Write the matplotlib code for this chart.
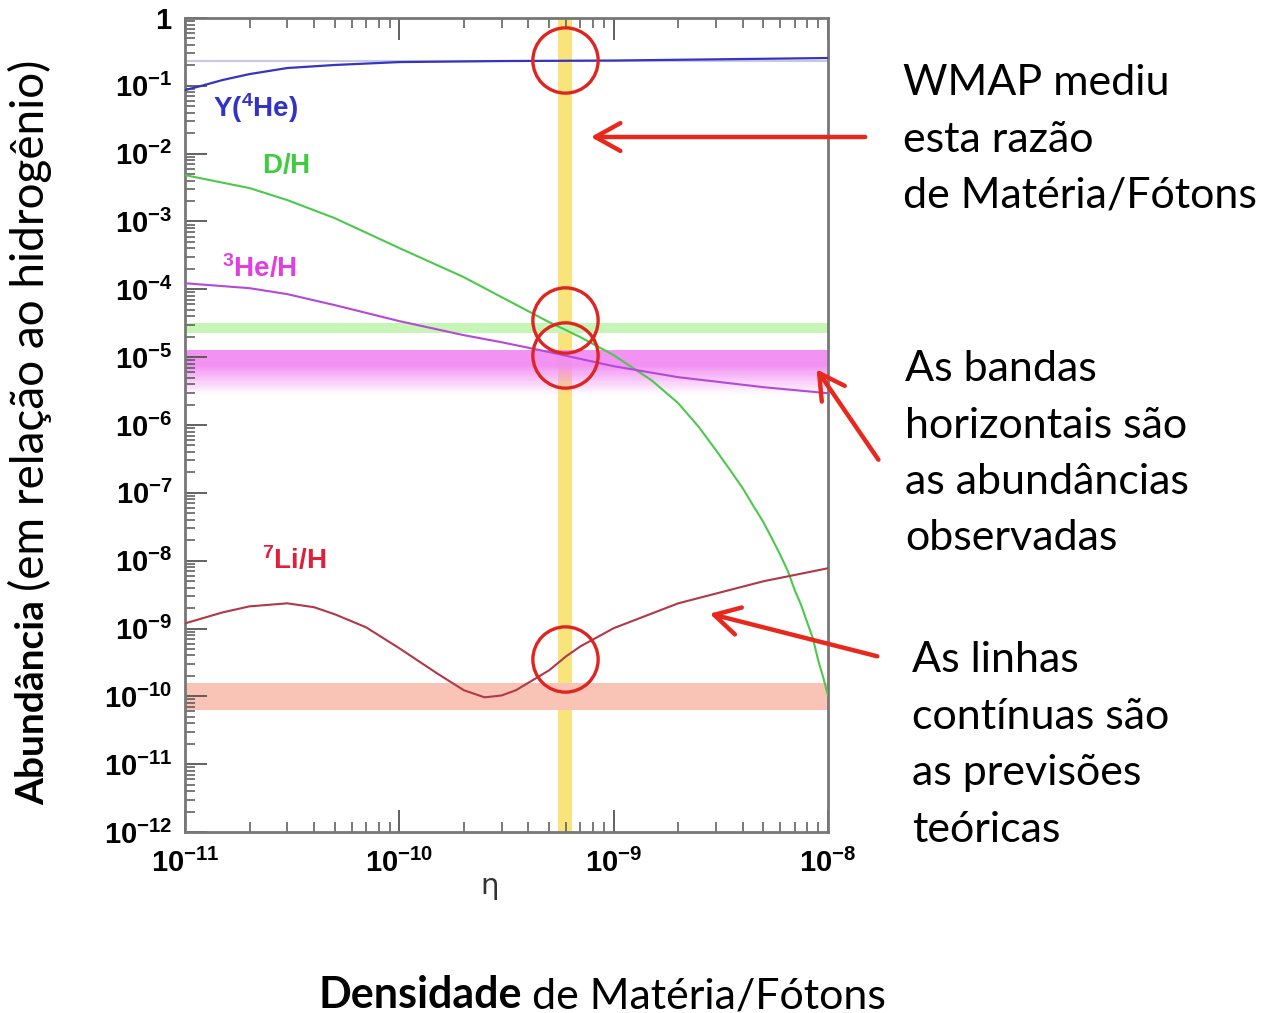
import matplotlib
matplotlib.use('Agg')
import matplotlib.pyplot as plt
import numpy as np
from matplotlib.ticker import LogLocator, NullFormatter

plt.rcParams['mathtext.fontset'] = 'custom'
plt.rcParams['mathtext.rm'] = 'Liberation Sans'
plt.rcParams['mathtext.bf'] = 'Liberation Sans:bold'

# curves (eta, abundance)
eta_he4 = [1e-11, 1.18e-11, 1.5e-11, 2e-11, 3e-11, 5e-11, 1e-10, 3e-10, 1e-9, 1e-8]
y_he4 = [0.0867, 0.099, 0.122, 0.149, 0.183, 0.203, 0.224, 0.232, 0.236, 0.257]

eta_d = [1e-11, 2e-11, 3e-11, 5e-11, 1e-10, 2e-10, 3e-10, 5e-10, 6e-10, 7e-10,
         1e-9, 1.5e-9, 2e-9, 2.5e-9, 3e-9, 3.5e-9, 4e-9, 4.5e-9, 5e-9, 5.5e-9, 6e-9, 6.5e-9,
         7e-9, 7.5e-9, 8e-9, 8.5e-9, 9e-9, 9.5e-9, 1e-8]
y_d = [4.83e-3, 3.11e-3, 2.07e-3, 1.12e-3, 4.06e-4, 1.51e-4, 7.67e-5, 3.28e-5, 2.50e-5, 1.97e-5,
       1.07e-5, 4.58e-6, 2.10e-6, 9.3e-7, 4.25e-7, 2.15e-7, 1.17e-7, 6.3e-8, 3.68e-8, 2.07e-8, 1.2e-8, 6.98e-9,
       3.66e-9, 2.2e-9, 1.23e-9, 7.16e-10, 3.4e-10, 1.9e-10, 1.03e-10]

eta_he3 = [1e-11, 2e-11, 3e-11, 5e-11, 1e-10, 2e-10, 3e-10, 5e-10, 1e-9, 2e-9, 5e-9, 1e-8]
y_he3 = [1.23e-4, 1.04e-4, 8.5e-5, 5.85e-5, 3.40e-5, 2.11e-5, 1.66e-5, 1.19e-5, 7.36e-6, 5.07e-6, 3.61e-6, 2.94e-6]

eta_li = [1e-11, 1.5e-11, 2e-11, 3e-11, 4e-11, 5e-11, 7e-11, 1e-10, 1.5e-10, 2e-10,
          2.5e-10, 3e-10, 3.5e-10, 5e-10, 6e-10, 7e-10, 1e-9, 2e-9, 5e-9, 1e-8]
y_li = [1.19e-9, 1.73e-9, 2.12e-9, 2.35e-9, 2.06e-9, 1.62e-9, 1.04e-9, 5.11e-10, 2.18e-10, 1.23e-10,
        9.66e-11, 1.03e-10, 1.23e-10, 2.42e-10, 3.89e-10, 5.46e-10, 1.01e-9, 2.35e-9, 4.97e-9, 7.73e-9]

# observed abundances
he4_obs = 0.234
d_band = [2.3e-5, 3.2e-5]
he3_band = [2.8e-6, 1.27e-5]
li_band = [6.2e-11, 1.56e-10]
wmap_band = [5.5e-10, 6.4e-10]
wmap_eta = 5.93e-10
circle_y = [0.24, 3.5e-5, 1.07e-5, 3.6e-10]

xtick_vals = [1e-11, 1e-10, 1e-9, 1e-8]
xtick_labels = [r'$\mathbf{10^{-11}}$', r'$\mathbf{10^{-10}}$', r'$\mathbf{10^{-9}}$', r'$\mathbf{10^{-8}}$']
ytick_vals = [1, 1e-1, 1e-2, 1e-3, 1e-4, 1e-5, 1e-6, 1e-7, 1e-8, 1e-9, 1e-10, 1e-11, 1e-12]
ytick_labels = [r'$\mathbf{1}$', r'$\mathbf{10^{-1}}$', r'$\mathbf{10^{-2}}$', r'$\mathbf{10^{-3}}$',
                r'$\mathbf{10^{-4}}$', r'$\mathbf{10^{-5}}$', r'$\mathbf{10^{-6}}$', r'$\mathbf{10^{-7}}$',
                r'$\mathbf{10^{-8}}$', r'$\mathbf{10^{-9}}$', r'$\mathbf{10^{-10}}$', r'$\mathbf{10^{-11}}$',
                r'$\mathbf{10^{-12}}$']

W, H = 1266, 1013
def fx(x):
    return x / W
def fy(y):
    return 1 - y / H

fig = plt.figure(figsize=(W / 100, H / 100), dpi=100)
ax = fig.add_axes([fx(185), fy(832), 643 / W, 814 / H])
ax.set_xscale('log')
ax.set_yscale('log')
ax.set_xlim(1e-11, 1e-8)
ax.set_ylim(1e-12, 1)

# bands
ax.axvspan(wmap_band[0], wmap_band[1], color='#f9e47c', lw=0, zorder=1)
ax.axhspan(d_band[0], d_band[1], color='#c6f5b6', lw=0, zorder=1)
ax.axhspan(li_band[0], li_band[1], color='#f9c4b6', lw=0, zorder=1)
ax.axhline(he4_obs, color='#c8c8e6', lw=1.5, zorder=1)
n = 40
edges = np.logspace(np.log10(he3_band[0]), np.log10(he3_band[1]), n + 1)
for i in range(n):
    t = (i + 0.5) / n
    ax.axhspan(edges[i], edges[i + 1], color='#f28cf2', alpha=min(1.0, 1.5 * t) * 0.95, lw=0, zorder=1)

# theory curves
ax.plot(eta_he4, y_he4, color='#3535c0', lw=1.6, zorder=3)
ax.plot(eta_d, y_d, color='#4cc84c', lw=1.5, zorder=3)
ax.plot(eta_he3, y_he3, color='#b448d8', lw=1.5, zorder=3)
ax.plot(eta_li, y_li, color='#b03848', lw=1.5, zorder=3)

ax.plot([wmap_eta] * len(circle_y), circle_y, 'o', ms=47, mfc='none', mec='#e02420', mew=2.4,
        zorder=4, clip_on=False)

lab = dict(fontsize=20, va='center', ha='left')
ax.text(1.35e-11, 0.047, r'$\mathbf{Y(^{4}He)}$', color='#3232c8', **lab)
ax.text(2.29e-11, 6.8e-3, r'$\mathbf{D/H}$', color='#40cc40', **lab)
ax.text(1.49e-11, 2.05e-4, r'$\mathbf{^{3}He/H}$', color='#e040e0', **lab)
ax.text(2.29e-11, 1.01e-8, r'$\mathbf{^{7}Li/H}$', color='#e0203a', **lab)

# axes styling
ax.set_xticks(xtick_vals, labels=xtick_labels)
ax.set_yticks(ytick_vals, labels=ytick_labels)
ax.xaxis.set_minor_locator(LogLocator(base=10, subs=np.arange(2, 10), numticks=100))
ax.yaxis.set_minor_locator(LogLocator(base=10, subs=np.arange(2, 10), numticks=100))
ax.xaxis.set_minor_formatter(NullFormatter())
ax.yaxis.set_minor_formatter(NullFormatter())
ax.tick_params(which='both', direction='in', top=True, right=False, color='#555555', labelsize=21)
ax.tick_params(which='major', length=16, width=1.3)
ax.tick_params(which='minor', length=7, width=1.1)
ax.tick_params(axis='x', pad=12)
ax.tick_params(axis='y', pad=9)
for s in ax.spines.values():
    s.set_color('#777777')
    s.set_linewidth(2)

fig.text(fx(490), fy(886), 'η', fontsize=21, ha='center', va='center', color='#333333')

# annotations
font = 'Lato'
fs = 31
lines1 = ['WMAP mediu', 'esta razão', 'de Matéria/Fótons']
lines2 = ['As bandas', 'horizontais são', 'as abundâncias', 'observadas']
lines3 = ['As linhas', 'contínuas são', 'as previsões', 'teóricas']
for x0, y0, lines in [(903, 95, lines1), (905, 381, lines2), (912, 672, lines3)]:
    for k, s in enumerate(lines):
        fig.text(fx(x0), fy(y0 + 56.5 * k), s, fontsize=fs, family=font, ha='left', va='baseline')

arrow = dict(arrowstyle='->,head_length=0.9,head_width=0.5', color='#e8281c', lw=3.2, mutation_scale=20)
for tip, tail in [((588, 137), (868, 137)), ((815, 367), (880, 462)), ((707, 613), (880, 657))]:
    ax.annotate('', xy=(fx(tip[0]), fy(tip[1])), xytext=(fx(tail[0]), fy(tail[1])),
                xycoords='figure fraction', textcoords='figure fraction', arrowprops=arrow,
                annotation_clip=False)

r = fig.canvas.get_renderer()
t1 = fig.text(fx(318), fy(1008), 'Densidade', fontsize=fs, family=font, fontweight='bold',
              ha='left', va='baseline')
bb = t1.get_window_extent(r)
fig.text((bb.x1 + 10) / W, fy(1008), 'de Matéria/Fótons', fontsize=fs, family=font,
         ha='left', va='baseline')

t2 = fig.text(fx(44), fy(805), 'Abundância', fontsize=28, family=font, fontweight='bold',
              rotation=90, rotation_mode='anchor', ha='left', va='baseline')
bb = t2.get_window_extent(r)
fig.text(fx(44), (bb.y1 + 9) / H, '(em relação ao hidrogênio)', fontsize=33, family=font,
         rotation=90, rotation_mode='anchor', ha='left', va='baseline')

fig.savefig('out.png', dpi=100)
